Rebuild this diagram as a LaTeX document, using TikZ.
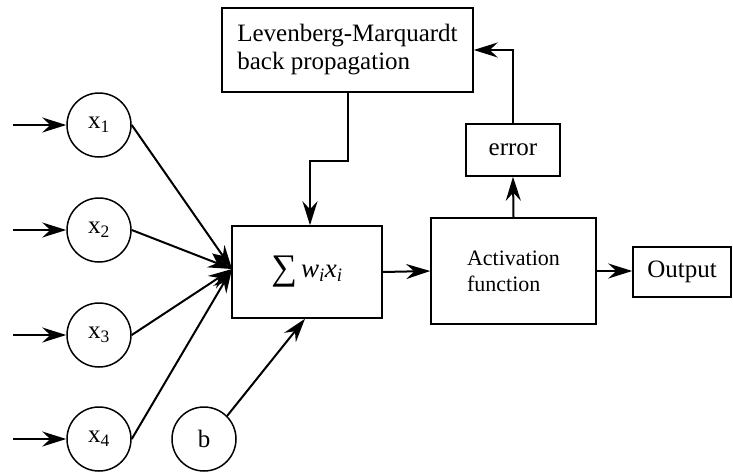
\documentclass[tikz,border=0pt]{standalone}
\usepackage{fontspec}
\setmainfont{Liberation Serif}
\usetikzlibrary{arrows.meta}
\begin{document}
\begin{tikzpicture}[x=1pt,y=-1pt,
  box/.style={draw,rectangle,inner sep=0pt,line width=1.5pt,font=\fontsize{25}{28}\selectfont},
  neuron/.style={draw,circle,minimum size=64pt,inner sep=0pt,line width=1.5pt,font=\fontsize{25}{28}\selectfont},
  arr/.style={-{Stealth[length=24pt,width=15pt,inset=8pt]},line width=2pt}]
\useasboundingbox (0,0) rectangle (733,472);
% neurons
\node[neuron] (x1) at (99,125) {x\textsubscript{1}};
\node[neuron] (x2) at (99,230) {x\textsubscript{2}};
\node[neuron] (x3) at (99,335) {x\textsubscript{3}};
\node[neuron] (x4) at (99,439) {x\textsubscript{4}};
\node[neuron] (b) at (204,439) {b};
% input start points
\coordinate (i1) at (13,125);
\coordinate (i2) at (13,230);
\coordinate (i3) at (13,335);
\coordinate (i4) at (13,439);
% boxes
\node[box,minimum width=150pt,minimum height=92pt] (sum) at (307,272)
  {\raisebox{-2pt}{\fontsize{36}{36}\selectfont ∑}\,{\fontsize{27}{30}\selectfont\textit{w}\textsubscript{\textit{i}}\textit{x}\textsubscript{\textit{i}}}};
\node[box,minimum width=251pt,minimum height=84pt,align=left] (lm) at (347.5,50)
  {Levenberg-Marquardt\\back propagation};
\node[box,minimum width=94pt,minimum height=52pt] (err) at (513,150) {error};
\node[box,minimum width=165pt,minimum height=106pt,align=left,font=\fontsize{22}{26}\selectfont] (act) at (513.5,271)
  {Activation\\function};
\node[box,minimum width=98pt,minimum height=50pt] (out) at (682,272) {Output};
\coordinate (conv) at (232,269);
% connectors
\foreach \k in {1,2,3,4} {
  \draw[arr] (i\k) -- (x\k.west);
  \draw[arr] (x\k.east) -- (conv);
}
\draw[arr] (b.45) -- ([xshift=-2pt]sum.south);
\draw[arr] (sum.east) -- (act.west);
\draw[arr] (act.east) -- (act.east -| out.west);
\draw[arr] (act.north) -- (err.south);
\draw[arr] (err.north) |- (lm.east);
\draw[arr] (lm.south) -- ++(0,68) -| ([xshift=3pt]sum.north);
\end{tikzpicture}
\end{document}
